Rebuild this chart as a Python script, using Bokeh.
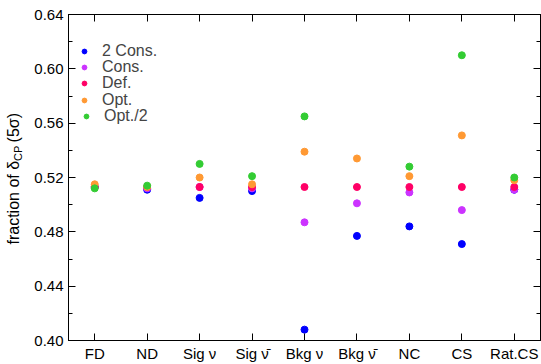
from bokeh.plotting import figure
from bokeh.layouts import row
from bokeh.models import (Range1d, FactorRange, SingleIntervalTicker, LinearAxis,
                          CategoricalAxis, Legend, LegendItem, NumeralTickFormatter,
                          ColumnDataSource, CustomJSTickFormatter, Div)
from bokeh.embed import file_html
from bokeh.resources import INLINE

nan = float("nan")
categories = ["FD", "ND", "Sig ν", "Sig ν\u0304", "Bkg ν", "Bkg ν\u0304", "NC", "CS", "Rat.CS"]
two_cons = [0.513, 0.511, 0.505, 0.510, 0.408, 0.477, 0.484, 0.471, 0.511]
cons = [0.513, 0.512, 0.513, 0.512, 0.487, 0.501, 0.509, 0.496, 0.511]
default = [0.513, 0.513, 0.513, 0.513, 0.513, 0.513, 0.513, 0.513, 0.513]
opt = [0.515, 0.513, 0.520, 0.515, 0.539, 0.534, 0.521, 0.551, 0.518]
opt_half = [0.512, 0.514, 0.530, 0.521, 0.565, nan, 0.528, 0.610, 0.520]

series_names = ["2 Cons.", "Cons.", "Def.", "Opt.", "Opt./2"]
series_values = [two_cons, cons, default, opt, opt_half]
series_colors = ["#0000ff", "#cc33ff", "#ff0066", "#ff9933", "#33cc33"]

y_ticks_interval = 0.04
FONT = "Liberation Sans"
LABEL_W = 30

p = figure(width=541 - LABEL_W, height=364, output_backend="svg", toolbar_location=None,
           x_range=FactorRange(*categories, range_padding=0),
           y_range=Range1d(0.40, 0.64),
           min_border_left=68 - LABEL_W, min_border_right=1, min_border_top=14,
           min_border_bottom=21, margin=0)
p.xgrid.visible = False
p.ygrid.visible = False
p.outline_line_color = "black"
p.outline_line_width = 1
p.background_fill_color = "white"
p.border_fill_color = "white"

renderers = []
for name, vals, col in zip(series_names, series_values, series_colors):
    src = ColumnDataSource(dict(x=categories, y=vals))
    r = p.scatter("x", "y", source=src, size=7, fill_color=col, line_color=col)
    renderers.append(r)

ticker = SingleIntervalTicker(interval=y_ticks_interval, num_minor_ticks=2)
blank = CustomJSTickFormatter(code="return ''")

def style_axis(ax, labels=True):
    ax.axis_line_color = "black"
    ax.major_tick_in = 7
    ax.major_tick_out = 0
    ax.minor_tick_in = 4
    ax.minor_tick_out = 0
    ax.major_tick_line_color = "black"
    ax.minor_tick_line_color = "black"
    ax.major_label_text_font = FONT
    ax.major_label_text_color = "black"
    ax.major_label_text_font_size = "15px"
    if labels:
        ax.major_label_standoff = 5
    else:
        ax.formatter = blank
        ax.major_label_standoff = 0

p.yaxis.ticker = ticker
p.yaxis.formatter = NumeralTickFormatter(format="0.00")
style_axis(p.yaxis[0])
style_axis(p.xaxis[0])
p.xaxis[0].major_label_standoff = 4

right = LinearAxis(ticker=ticker)
style_axis(right, labels=False)
p.add_layout(right, "right")
top = CategoricalAxis()
style_axis(top, labels=False)
p.add_layout(top, "above")

# one legend per entry so rows can sit as close as in the reference
legend_offsets = [(10, 280), (10, 264), (10, 248), (10, 231), (12, 215)]
for name, r, loc in zip(series_names, renderers, legend_offsets):
    lg = Legend(items=[LegendItem(label=name, renderers=[r])], location=loc,
                padding=0, margin=0, spacing=0,
                glyph_width=12, glyph_height=14, label_standoff=12,
                label_text_font=FONT, label_text_font_size="16px",
                background_fill_alpha=0, border_line_alpha=0)
    p.add_layout(lg)

# y-axis label with a real subscript, as HTML text beside the plot
ylabel_html = (
    '<div style="width:%dpx;height:357px;display:flex;align-items:center;'
    'justify-content:center;">'
    '<span style="writing-mode:vertical-rl;transform:rotate(180deg);white-space:nowrap;'
    "font-family:'Liberation Sans',Arial,sans-serif;font-size:16px;color:#000;line-height:1;\">"
    'fraction of &delta;<sub style="font-size:11px;">CP</sub>&thinsp;(5&sigma;)</span></div>'
) % LABEL_W
ylabel = Div(text=ylabel_html, width=LABEL_W, height=364, margin=0)

layout = row(ylabel, p, spacing=0)
open("out.html", "w").write(file_html(layout, INLINE))
